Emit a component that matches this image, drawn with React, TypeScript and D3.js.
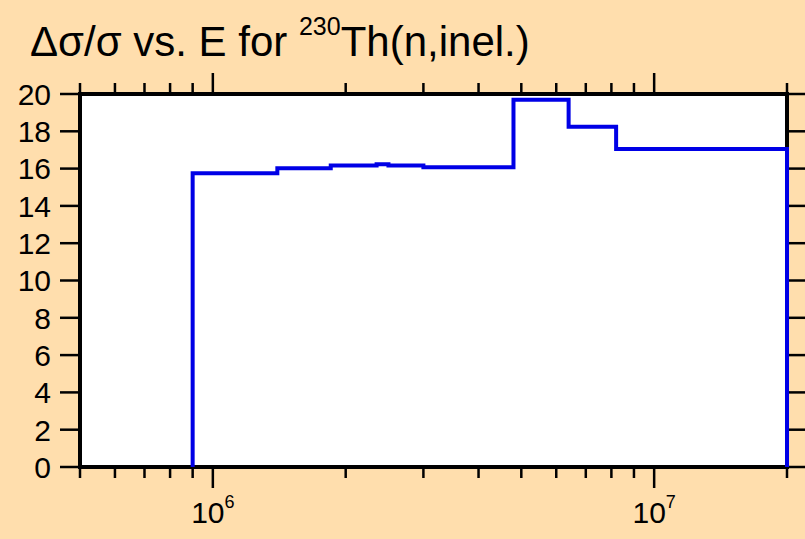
import { useEffect, useRef } from "react";
import * as d3 from "d3";

// bin edges (eV) and relative uncertainty (%) per bin
const binEdges = [9e5, 1.4e6, 1.85e6, 2.35e6, 2.5e6, 3.0e6, 4.8e6, 6.4e6, 8.2e6, 2e7];
const binValues = [15.75, 16.02, 16.16, 16.23, 16.16, 16.07, 19.69, 18.25, 17.05];
const yTicks = [0, 2, 4, 6, 8, 10, 12, 14, 16, 18, 20];
const xMajor = [1e6, 1e7];
const xMinor = [6e5, 7e5, 8e5, 9e5, 2e6, 3e6, 4e6, 5e6, 6e6, 7e6, 8e6, 9e6, 2e7];

export default function App() {
  const svgRef = useRef<SVGSVGElement>(null);

  useEffect(() => {
    if (!svgRef.current) return;
    const width = 805;
    const height = 539;
    const m = { left: 80, top: 94, right: 787, bottom: 467 };

    const svg = d3.select(svgRef.current);
    svg.selectAll("*").remove();

    const x = d3.scaleLog().domain([5e5, 2e7]).range([m.left, m.right]);
    const y = d3.scaleLinear().domain([0, 20]).range([m.bottom, m.top]);

    svg.append("rect").attr("width", width).attr("height", height).attr("fill", "#ffdead");
    svg.append("rect")
      .attr("x", m.left).attr("y", m.top)
      .attr("width", m.right - m.left).attr("height", m.bottom - m.top)
      .attr("fill", "#fff");

    const font = "'Liberation Sans', Arial, sans-serif";

    // title
    const title = svg.append("text")
      .attr("x", 30).attr("y", 56)
      .attr("font-family", font).attr("font-size", 42).attr("fill", "#000");
    title.append("tspan").text("\u0394\u03c3/\u03c3 vs. E for ");
    title.append("tspan").attr("font-size", 25).attr("dy", -21).text("230");
    title.append("tspan").attr("dy", 21).text("Th(n,inel.)");

    const ticks = svg.append("g").attr("stroke", "#000").attr("stroke-width", 2.5);

    // y ticks, both sides, pointing outward
    yTicks.forEach((v) => {
      ticks.append("line").attr("x1", m.left - 20).attr("x2", m.left).attr("y1", y(v)).attr("y2", y(v));
      ticks.append("line").attr("x1", m.right).attr("x2", m.right + 20).attr("y1", y(v)).attr("y2", y(v));
    });

    // x ticks, bottom and top, pointing outward
    xMajor.forEach((v) => {
      ticks.append("line").attr("x1", x(v)).attr("x2", x(v)).attr("y1", m.bottom).attr("y2", m.bottom + 21);
      ticks.append("line").attr("x1", x(v)).attr("x2", x(v)).attr("y1", m.top).attr("y2", m.top - 21);
    });
    xMinor.forEach((v) => {
      ticks.append("line").attr("x1", x(v)).attr("x2", x(v)).attr("y1", m.bottom).attr("y2", m.bottom + 11);
      ticks.append("line").attr("x1", x(v)).attr("x2", x(v)).attr("y1", m.top).attr("y2", m.top - 11);
    });
    // tick at left domain edge
    ticks.append("line").attr("x1", m.left).attr("x2", m.left).attr("y1", m.bottom).attr("y2", m.bottom + 11);
    ticks.append("line").attr("x1", m.left).attr("x2", m.left).attr("y1", m.top).attr("y2", m.top - 11);

    // y labels
    svg.append("g")
      .selectAll("text")
      .data(yTicks)
      .join("text")
      .attr("x", 51)
      .attr("y", (d) => y(d))
      .attr("dy", "0.36em")
      .attr("text-anchor", "end")
      .attr("font-family", font)
      .attr("font-size", 30)
      .text((d) => d);

    // x labels 10^n
    xMajor.forEach((v) => {
      const t = svg.append("text")
        .attr("x", x(v)).attr("y", 523)
        .attr("text-anchor", "middle")
        .attr("font-family", font).attr("font-size", 30);
      t.append("tspan").text("10");
      t.append("tspan").attr("font-size", 18).attr("dy", -15).text(String(Math.round(Math.log10(v))));
    });

    // frame
    svg.append("rect")
      .attr("x", m.left).attr("y", m.top)
      .attr("width", m.right - m.left).attr("height", m.bottom - m.top)
      .attr("fill", "none").attr("stroke", "#000").attr("stroke-width", 4);

    // step line
    const pts: [number, number][] = [[binEdges[0], 0]];
    binValues.forEach((v, i) => {
      pts.push([binEdges[i], v]);
      pts.push([binEdges[i + 1], v]);
    });
    pts.push([binEdges[binEdges.length - 1], 0]);

    const line = d3.line<[number, number]>()
      .x((d) => x(d[0]))
      .y((d) => y(d[1]));

    svg.append("path")
      .attr("d", line(pts))
      .attr("fill", "none")
      .attr("stroke", "#0000e6")
      .attr("stroke-width", 4);
  }, []);

  return (
    <svg
      ref={svgRef}
      width={805}
      height={539}
      style={{ position: "absolute", left: 0, top: 0, display: "block" }}
    />
  );
}
